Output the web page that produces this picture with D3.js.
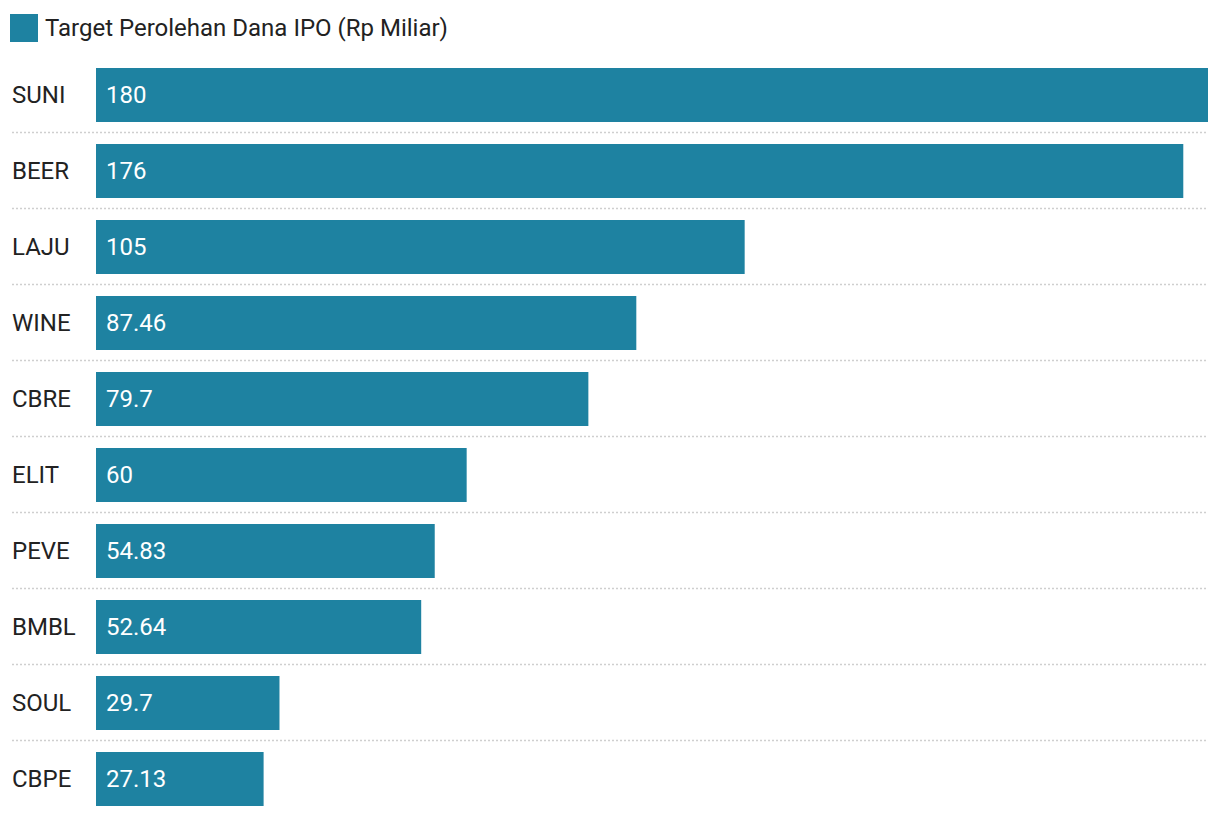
<!DOCTYPE html>
<html>
<head>
<meta charset="utf-8">
<script src="https://cdn.jsdelivr.net/npm/d3@7"></script>
<style>
  html, body { margin: 0; padding: 0; background: #fff; }
  svg { display: block; font-family: Roboto, "Noto Sans", sans-serif; }
</style>
</head>
<body>
<svg id="chart" width="1220" height="818"></svg>
<script>
const categories = ["SUNI", "BEER", "LAJU", "WINE", "CBRE", "ELIT", "PEVE", "BMBL", "SOUL", "CBPE"];
const values = [180, 176, 105, 87.46, 79.7, 60, 54.83, 52.64, 29.7, 27.13];
const valueLabels = ["180", "176", "105", "87.46", "79.7", "60", "54.83", "52.64", "29.7", "27.13"];
const seriesName = "Target Perolehan Dana IPO (Rp Miliar)";

const color = "#1e82a1";
const svg = d3.select("#chart");

const x = d3.scaleLinear().domain([0, 180]).range([96, 1208]);
const y = d3.scaleBand().domain(categories).range([57, 817])
  .paddingInner(22 / 76).paddingOuter(11 / 76);

// legend
const lg = svg.append("g");
lg.append("rect").attr("x", 10).attr("y", 14).attr("width", 28).attr("height", 28).attr("fill", color);
lg.append("text").attr("x", 45).attr("y", 28).attr("dy", "0.35em")
  .attr("font-size", 24).attr("fill", "#222").text(seriesName);

// separators
const step = y.step();
svg.append("g").selectAll("line")
  .data(categories.slice(0, -1))
  .join("line")
  .attr("x1", 12).attr("x2", 1208)
  .attr("y1", d => y(d) + y.bandwidth() + (step - y.bandwidth()) / 2 - 0.5)
  .attr("y2", d => y(d) + y.bandwidth() + (step - y.bandwidth()) / 2 - 0.5)
  .attr("stroke", "#cfcfcf").attr("stroke-width", 1.6).attr("stroke-dasharray", "2,2");

const rows = svg.append("g").selectAll("g")
  .data(categories.map((c, i) => ({ c, v: values[i], l: valueLabels[i] })))
  .join("g");

rows.append("rect")
  .attr("x", x(0)).attr("y", d => y(d.c))
  .attr("width", d => x(d.v) - x(0)).attr("height", y.bandwidth())
  .attr("fill", color);

rows.append("text")
  .attr("x", 12).attr("y", d => y(d.c) + y.bandwidth() / 2).attr("dy", "0.35em")
  .attr("font-size", 24).attr("fill", "#222").text(d => d.c);

rows.append("text")
  .attr("x", x(0) + 10).attr("y", d => y(d.c) + y.bandwidth() / 2).attr("dy", "0.35em")
  .attr("font-size", 24).attr("fill", "#fff").text(d => d.l);
</script>
</body>
</html>
